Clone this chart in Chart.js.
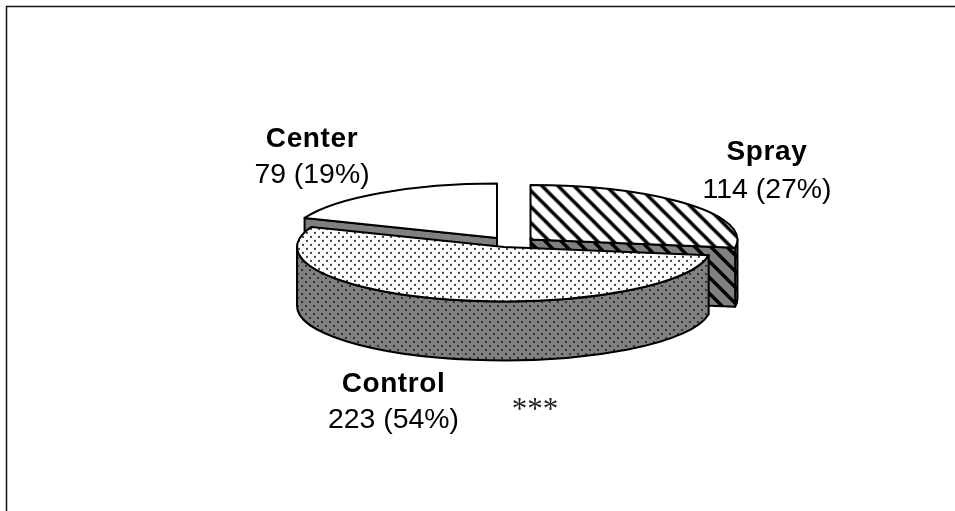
<!DOCTYPE html>
<html>
<head>
<meta charset="utf-8">
<style>
  html, body { margin: 0; background: #fff; }
  canvas { display: block; }
</style>
<script src="https://cdn.jsdelivr.net/npm/chart.js@4"></script>
</head>
<body>
<canvas id="pie3d" width="955" height="511"></canvas>
<script>
const categories = ['Spray', 'Control', 'Center'];
const counts = [114, 223, 79];
const percents = [27, 54, 19];
const note = '***';

// look of the fake 3D pie
const squash = 0.263;
const depth = 59;
const pulledOut = [[19.5, -4.5], [-7, 3], [-14, -6]];
const drawOrder = [2, 0, 1];
const labelSpots = [[767, 160, 198], [393.5, 392, 428], [312, 147, 183]];

function makeStripes(bg) {
  const c = document.createElement('canvas');
  c.width = c.height = 16;
  const g = c.getContext('2d');
  g.fillStyle = bg;
  g.fillRect(0, 0, 16, 16);
  g.strokeStyle = '#000';
  g.lineWidth = 3.4;
  g.beginPath();
  for (let i = -16; i <= 16; i += 16) {
    g.moveTo(i - 2, -2);
    g.lineTo(i + 18, 18);
  }
  g.stroke();
  return c;
}

function makeDots(bg, dot) {
  const c = document.createElement('canvas');
  c.width = c.height = 8;
  const g = c.getContext('2d');
  g.fillStyle = bg;
  g.fillRect(0, 0, 8, 8);
  g.fillStyle = dot;
  g.fillRect(1, 1, 2, 2);
  g.fillRect(5, 5, 2, 2);
  return c;
}

const ctx = document.getElementById('pie3d').getContext('2d');

// top faces get drawn inside a squashed context, so undo that on the pattern
function topPattern(tile) {
  const p = ctx.createPattern(tile, 'repeat');
  p.setTransform(new DOMMatrix().scale(1, 1 / squash));
  return p;
}

const topFills = [topPattern(makeStripes('#fff')), topPattern(makeDots('#fff', '#444')), '#fff'];
const sideFills = [
  ctx.createPattern(makeStripes('#808080'), 'repeat'),
  ctx.createPattern(makeDots('#808080', '#333'), 'repeat'),
  '#808080'
];

function drawSlice(c, arc, i) {
  const cx = arc.x + pulledOut[i][0];
  const cy = arc.y + pulledOut[i][1];
  const R = arc.outerRadius;
  const ry = R * squash;
  const a = arc.startAngle;
  const b = arc.endAngle;

  c.lineWidth = 2;
  c.strokeStyle = '#000';
  c.lineJoin = 'round';
  c.fillStyle = sideFills[i];

  // outer wall, only the part that faces the viewer
  const a0 = Math.max(a, 0);
  const a1 = Math.min(b, Math.PI);
  if (a1 > a0) {
    c.beginPath();
    c.ellipse(cx, cy + depth, R, ry, 0, a0, a1);
    c.ellipse(cx, cy, R, ry, 0, a1, a0, true);
    c.closePath();
    c.fill();
    c.stroke();
  }

  // cut faces
  [[a, Math.cos(a) < -1e-6], [b, Math.cos(b) > 1e-6]].forEach(([ang, visible]) => {
    if (!visible) return;
    const ex = cx + Math.cos(ang) * R;
    const ey = cy + Math.sin(ang) * ry;
    c.beginPath();
    c.moveTo(cx, cy);
    c.lineTo(ex, ey);
    c.lineTo(ex, ey + depth);
    c.lineTo(cx, cy + depth);
    c.closePath();
    c.fill();
    c.stroke();
  });

  // top face comes from the chart's own arc element
  c.save();
  c.translate(cx - arc.x, cy);
  c.scale(1, squash);
  c.translate(0, -arc.y);
  arc.draw(c);
  c.restore();

  c.beginPath();
  c.moveTo(cx, cy);
  c.ellipse(cx, cy, R, ry, 0, a, b);
  c.closePath();
  c.stroke();
}

const pie3dPlugin = {
  id: 'pie3d',
  beforeDraw(chart) {
    const c = chart.ctx;
    c.save();
    c.strokeStyle = '#111';
    c.lineWidth = 1.5;
    c.beginPath();
    c.moveTo(6.5, 511);
    c.lineTo(6.5, 6.5);
    c.lineTo(955, 6.5);
    c.stroke();
    c.restore();
  },
  beforeDatasetDraw(chart, args) {
    const c = chart.ctx;
    const arcs = args.meta.data;
    c.save();
    drawOrder.forEach(i => drawSlice(c, arcs[i], i));
    c.restore();
    return false;
  },
  afterDatasetsDraw(chart) {
    const c = chart.ctx;
    c.save();
    c.fillStyle = '#000';
    c.textAlign = 'center';
    c.textBaseline = 'alphabetic';
    categories.forEach((name, i) => {
      const [x, y1, y2] = labelSpots[i];
      c.font = 'bold 28px "Liberation Sans", Arial, sans-serif';
      c.letterSpacing = '0.6px';
      c.fillText(name, x, y1);
      c.font = '28.4px "Liberation Sans", Arial, sans-serif';
      c.letterSpacing = '0px';
      c.fillText(counts[i] + ' (' + percents[i] + '%)', x, y2);
    });
    c.font = '31px "Liberation Serif", "Times New Roman", serif';
    c.fillStyle = '#222';
    c.fillText(note, 535, 419);
    c.restore();
  }
};

new Chart(ctx, {
  type: 'pie',
  data: {
    labels: categories,
    datasets: [{
      data: counts,
      backgroundColor: topFills,
      borderWidth: 0,
      hoverOffset: 0
    }]
  },
  options: {
    responsive: false,
    animation: false,
    events: [],
    radius: 207,
    layout: { padding: { left: 67, bottom: 23 } },
    plugins: {
      legend: { display: false },
      tooltip: { enabled: false }
    }
  },
  plugins: [pie3dPlugin]
});
</script>
</body>
</html>
